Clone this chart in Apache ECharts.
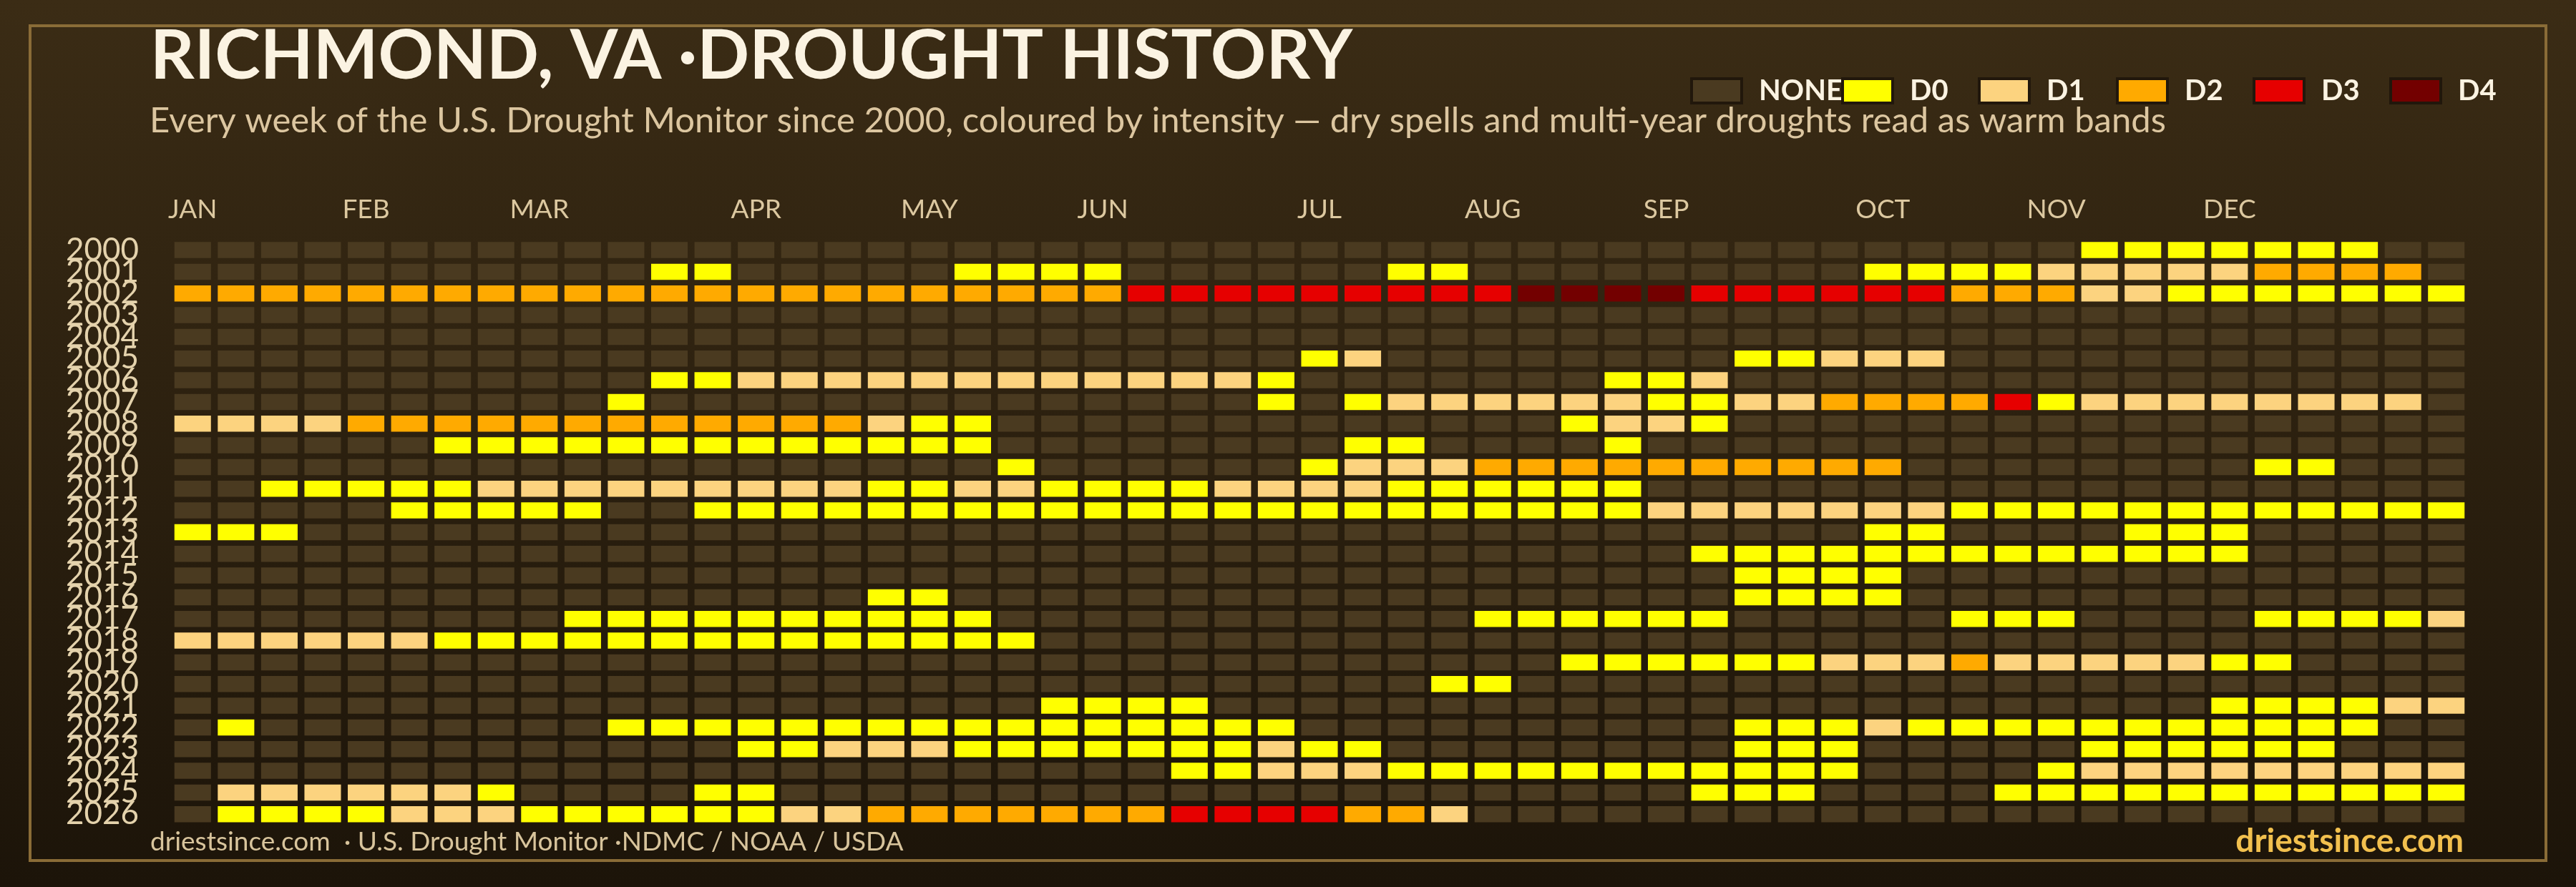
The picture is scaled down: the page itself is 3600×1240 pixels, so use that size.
<!DOCTYPE html>
<html>
<head>
<meta charset="utf-8">
<script src="https://cdn.jsdelivr.net/npm/echarts@6/dist/echarts.min.js"></script>
<style>
html,body{margin:0;padding:0;background:#1c1409;}
#chart{width:3600px;height:1240px;}
</style>
</head>
<body>
<div id="chart"></div>
<script>
// ---------- DATA ----------
const years = ["2000","2001","2002","2003","2004","2005","2006","2007","2008","2009",
  "2010","2011","2012","2013","2014","2015","2016","2017","2018","2019",
  "2020","2021","2022","2023","2024","2025","2026"];

const weeks = Array.from({length: 53}, (_, i) => "W" + (i + 1));

const monthTickWeeks  = [0, 4, 8, 13, 17, 21, 26, 30, 34, 39, 43, 47];
const monthTickLabels = ["JAN","FEB","MAR","APR","MAY","JUN","JUL","AUG","SEP","OCT","NOV","DEC"];

const levelNames  = ["NONE","D0","D1","D2","D3","D4"];
const levelColors = ["#4a3a20","#ffff00","#fcd37f","#ffaa00","#e60000","#730000"];

// one string per year, one digit per week (0 = none, 1 = D0 ... 5 = D4)
const droughtRows = [
  "0000000000 0000000000 0000000000 0000000000 0000111111 100", // 2000
  "0000000000 0110000011 1100000011 0000000001 1112222233 330", // 2001
  "3333333333 3333333333 3344444444 4555544444 4333221111 111", // 2002
  "0000000000 0000000000 0000000000 0000000000 0000000000 000", // 2003
  "0000000000 0000000000 0000000000 0000000000 0000000000 000", // 2004
  "0000000000 0000000000 0000001200 0000001122 2000000000 000", // 2005
  "0000000000 0112222222 2222210000 0001120000 0000000000 000", // 2006
  "0000000000 1000000000 0000010122 2222112233 3341222222 220", // 2007
  "2222333333 3333332110 0000000000 0012210000 0000000000 000", // 2008
  "0000001111 1111111110 0000000110 0001000000 0000000000 000", // 2009
  "0000000000 0000000001 0000001222 3333333333 0000000011 000", // 2010
  "0011111222 2222221122 1111222211 1111000000 0000000000 000", // 2011
  "0000011111 0011111111 1111111111 1111222222 2111111111 111", // 2012
  "1110000000 0000000000 0000000000 0000000001 1000011100 000", // 2013
  "0000000000 0000000000 0000000000 0000011111 1111111100 000", // 2014
  "0000000000 0000000000 0000000000 0000001111 0000000000 000", // 2015
  "0000000000 0000001100 0000000000 0000001111 0000000000 000", // 2016
  "0000000001 1111111110 0000000000 1111110000 0111000011 112", // 2017
  "2222221111 1111111111 0000000000 0000000000 0000000000 000", // 2018
  "0000000000 0000000000 0000000000 0011111122 2322222110 000", // 2019
  "0000000000 0000000000 0000000001 1000000000 0000000000 000", // 2020
  "0000000000 0000000000 1111000000 0000000000 0000000111 122", // 2021
  "0100000000 1111111111 1111110000 0000001112 1111111111 100", // 2022
  "0000000000 0001122211 1111121100 0000001110 0000111111 000", // 2023
  "0000000000 0000000000 0001122211 1111111110 0001222222 222", // 2024
  "0222222100 0011000000 0000000000 0000011100 0011111111 111", // 2025
  "0111122211 1111223333 3334444332 0000000000 0000000000 000"  // 2026
];

// ---------- BUILD ----------
const cellsByLevel = levelNames.map(() => []);
droughtRows.forEach((row, yi) => {
  row.replace(/ /g, "").split("").forEach((ch, wi) => {
    cellsByLevel[+ch].push([wi, yi]);
  });
});

const monthAt = {};
monthTickWeeks.forEach((w, i) => { monthAt[w] = monthTickLabels[i]; });

const FONT = "Lato";
const chart = echarts.init(document.getElementById("chart"), null, {renderer: "canvas"});

function renderCell(params, api) {
  const c = api.coord([api.value(0), api.value(1)]);
  const s = api.size([1, 1]);
  const w = s[0] - 9.5, h = s[1] - 7.8;
  return {
    type: "rect",
    shape: {x: c[0] - w / 2, y: c[1] - h / 2, width: w, height: h},
    style: {fill: api.visual("color")}
  };
}

const legendLefts = [2362, 2573, 2764, 2957, 3148, 3339];

const option = {
  backgroundColor: {
    type: "linear", x: 0, y: 0, x2: 0, y2: 1,
    colorStops: [{offset: 0, color: "#3b2c15"}, {offset: 1, color: "#1c1409"}]
  },
  animation: false,
  title: [
    {text: "RICHMOND, VA ·DROUGHT HISTORY", left: 205, top: 26,
     textStyle: {color: "#fbf3e2", fontSize: 96, fontWeight: "bold", fontFamily: FONT}},
    {text: "Every week of the U.S. Drought Monitor since 2000, coloured by intensity — dry spells and multi-year droughts read as warm bands",
     left: 204, top: 140,
     textStyle: {color: "#dcc6a0", fontSize: 49, fontWeight: "normal", fontFamily: FONT}},
    {text: "driestsince.com  · U.S. Drought Monitor ·NDMC / NOAA / USDA", left: 205, top: 1154,
     textStyle: {color: "#d8c49c", fontSize: 37, fontWeight: "normal", fontFamily: FONT}},
    {text: "driestsince.com", right: 152, top: 1148,
     textStyle: {color: "#f2c04e", fontSize: 46, fontWeight: "bold", fontFamily: FONT}}
  ],
  legend: levelNames.map((n, i) => ({
    data: [n], left: legendLefts[i], top: 107, padding: 0,
    icon: "rect", itemWidth: 70, itemHeight: 34,
    itemStyle: {borderColor: "#21170b", borderWidth: 4},
    selectedMode: false,
    textStyle: {color: "#fbf3e2", fontSize: 40, fontWeight: "bold", fontFamily: FONT, padding: [0, 0, 0, 19]}
  })),
  grid: {left: 239, top: 334.4, width: 3210, height: 819},
  xAxis: {
    type: "category", data: weeks, position: "top",
    axisLine: {show: false}, axisTick: {show: false}, splitLine: {show: false},
    axisLabel: {
      interval: 0, margin: 23, color: "#dcc8a0", fontSize: 37, fontFamily: FONT,
      formatter: (v, i) => monthAt[i] || ""
    }
  },
  yAxis: {
    type: "category", data: years, inverse: true,
    axisLine: {show: false}, axisTick: {show: false}, splitLine: {show: false},
    axisLabel: {interval: 0, margin: 45, color: "#e4d2ac", fontSize: 44, fontFamily: FONT}
  },
  series: levelNames.map((n, i) => ({
    name: n, type: "custom", renderItem: renderCell,
    itemStyle: {color: levelColors[i]},
    encode: {x: 0, y: 1},
    data: cellsByLevel[i]
  })),
  graphic: [{
    type: "rect", z: 0, silent: true,
    shape: {x: 42, y: 36, width: 3516, height: 1167},
    style: {fill: null, stroke: "#8a6c37", lineWidth: 4}
  }]
};
chart.setOption(option);
</script>
</body>
</html>
